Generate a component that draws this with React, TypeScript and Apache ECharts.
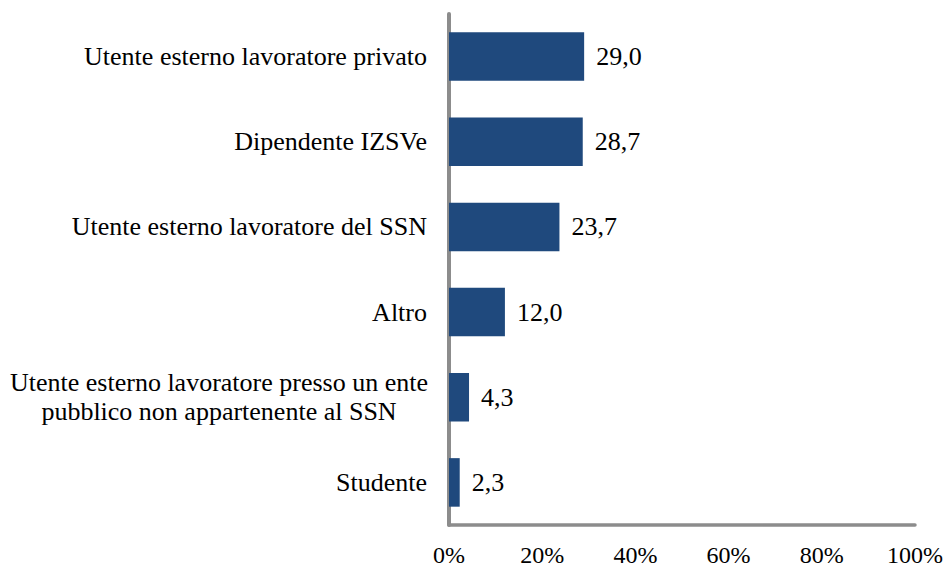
import React, { useEffect, useRef } from "react";
import * as echarts from "echarts";

const categories = [
  "Utente esterno lavoratore privato",
  "Dipendente IZSVe",
  "Utente esterno lavoratore del SSN",
  "Altro",
  "Utente esterno lavoratore presso un ente\npubblico non appartenente al SSN",
  "Studente",
];
const values = [29.0, 28.7, 23.7, 12.0, 4.3, 2.3];
const xTicks = [0, 20, 40, 60, 80, 100];

const FONT = "'Liberation Serif', 'Times New Roman', 'DejaVu Serif', serif";

export default function App() {
  const ref = useRef<HTMLDivElement>(null);
  useEffect(() => {
    if (!ref.current) return;
    const chart = echarts.init(ref.current, null, { renderer: "svg" });
    chart.setOption({
      animation: false,
      grid: { left: 449, right: 30, top: 14, bottom: 41, containLabel: false },
      xAxis: {
        type: "value",
        min: xTicks[0],
        max: xTicks[xTicks.length - 1],
        interval: 20,
        splitLine: { show: false },
        axisTick: { show: false },
        axisLine: { show: true, lineStyle: { color: "#8c8c8c", width: 3.5 } },
        axisLabel: {
          formatter: "{value}%",
          color: "#000",
          fontFamily: FONT,
          fontSize: 24,
          margin: 18,
        },
      },
      yAxis: {
        type: "category",
        data: categories,
        inverse: true,
        axisTick: { show: false },
        axisLine: { show: true, lineStyle: { color: "#8c8c8c", width: 4 } },
        axisLabel: {
          color: "#000",
          fontFamily: FONT,
          fontSize: 26,
          margin: 22,
          lineHeight: 29,
          formatter: (v: string) => {
            if (v.indexOf("\n") >= 0) {
              return v
                .split("\n")
                .map((s) => "{c|" + s + "}")
                .join("\n");
            }
            return v;
          },
          rich: {
            c: {
              width: 416,
              align: "center",
              fontFamily: FONT,
              fontSize: 26,
              lineHeight: 29,
              color: "#000",
            },
          },
        },
      },
      series: [
        {
          type: "bar",
          data: values,
          barWidth: "57%",
          itemStyle: { color: "#1f497d" },
          label: {
            show: true,
            position: "right",
            distance: 12,
            color: "#000",
            fontFamily: FONT,
            fontSize: 26,
            formatter: (p: any) => p.value.toFixed(1).replace(".", ","),
          },
        },
      ],
    });
    return () => chart.dispose();
  }, []);
  return (
    <div
      ref={ref}
      style={{ position: "absolute", left: 0, top: 0, width: 946, height: 567 }}
    />
  );
}
